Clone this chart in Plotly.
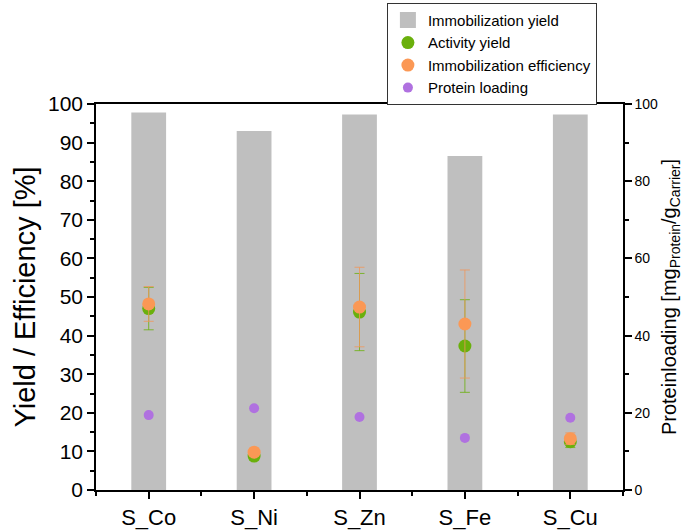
import plotly.graph_objects as go

categories = ["S_Co", "S_Ni", "S_Zn", "S_Fe", "S_Cu"]
immob_yield = [97.8, 93.0, 97.3, 86.5, 97.3]
activity_yield = [47.0, 8.8, 46.1, 37.3, 12.5]
activity_err = [5.5, 1.0, 10.0, 12.0, 1.5]
immob_eff = [48.2, 9.8, 47.4, 43.0, 13.3]
immob_eff_err = [4.5, 1.0, 10.3, 14.0, 1.5]
protein_loading = [19.4, 21.2, 18.9, 13.5, 18.7]

xpos = list(range(len(categories)))
FONT = "Liberation Sans, Arial, sans-serif"
BAR_COLOR = "#bfbfbf"

fig = go.Figure()
fig.add_trace(go.Bar(x=xpos, y=immob_yield, width=0.33, name="Immobilization yield",
                     marker=dict(color=BAR_COLOR, line=dict(width=0)), showlegend=False))
# legend entry for the bars (larger swatch)
fig.add_trace(go.Scatter(x=[None], y=[None], mode="markers", name="Immobilization yield",
                         marker=dict(color=BAR_COLOR, size=16, symbol="square")))
fig.add_trace(go.Scatter(x=xpos, y=activity_yield, mode="markers", name="Activity yield",
                         marker=dict(color="#6ab00c", size=13),
                         error_y=dict(type="data", array=activity_err, color="rgba(106,176,12,0.8)",
                                      thickness=1, width=5)))
fig.add_trace(go.Scatter(x=xpos, y=immob_eff, mode="markers", name="Immobilization efficiency",
                         marker=dict(color="#fb9855", size=13),
                         error_y=dict(type="data", array=immob_eff_err, color="rgba(240,150,90,0.8)",
                                      thickness=1, width=5)))
fig.add_trace(go.Scatter(x=xpos, y=protein_loading, mode="markers", name="Protein loading",
                         marker=dict(color="#b071e0", size=10), yaxis="y2"))

axis_common = dict(showline=True, linecolor="black", linewidth=1.5, ticks="outside",
                   tickcolor="black", tickwidth=1.5, showgrid=False, zeroline=False)

fig.update_layout(
    width=683, height=531,
    margin=dict(l=96, r=60, t=104, b=41, autoexpand=False),
    paper_bgcolor="white", plot_bgcolor="white",
    font=dict(family=FONT, color="black"),
    showlegend=True,
    legend=dict(x=0.552, y=1.262, xanchor="left", yanchor="top",
                bordercolor="#333333", borderwidth=1, bgcolor="white",
                font=dict(size=15, family=FONT), tracegroupgap=0,
                itemwidth=30),
    xaxis=dict(**axis_common, range=[-0.5, 4.5], tickmode="array", tickvals=xpos,
               ticktext=categories, ticklen=7, mirror=True,
               tickfont=dict(size=22), automargin=False,
               minor=dict(ticks="outside", ticklen=4, tickwidth=1.5, tickcolor="black",
                          tickmode="array", tickvals=[-0.5 + i for i in range(6)])),
    yaxis=dict(**axis_common, range=[0, 100], dtick=10, ticklen=7,
               tickfont=dict(size=21), automargin=False,
               title=dict(text="Yield / Efficiency [%]", font=dict(size=29), standoff=4),
               minor=dict(ticks="outside", ticklen=4, tickwidth=1.5, tickcolor="black", dtick=5)),
    yaxis2=dict(**axis_common, overlaying="y", side="right", range=[0, 100], dtick=20,
                ticklen=7, tickfont=dict(size=14), automargin=False,
                title=dict(text="Proteinloading [mg<sub>Protein</sub>/g<sub>Carrier</sub>]",
                           font=dict(size=20), standoff=8),
                minor=dict(ticks="outside", ticklen=4, tickwidth=1.5, tickcolor="black", dtick=10)),
)

fig.write_html("out.html")
